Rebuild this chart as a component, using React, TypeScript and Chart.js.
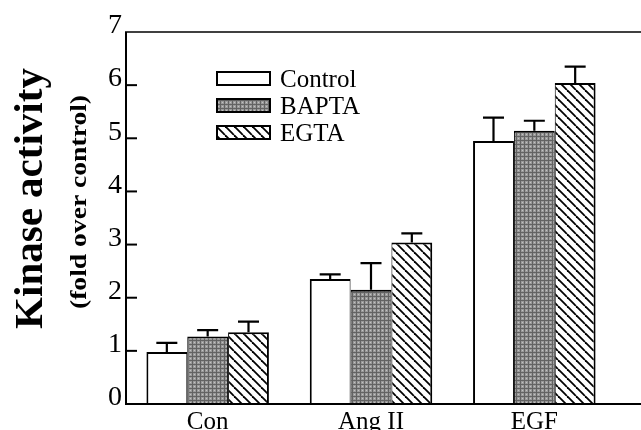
import React, { useEffect, useRef } from "react";
import { Chart, registerables } from "chart.js";

Chart.register(...registerables);

const categories = ["Con", "Ang II", "EGF"];
const seriesNames = ["Control", "BAPTA", "EGTA"];
const controlValues = [0.98, 2.35, 4.95];
const baptaValues = [1.27, 2.15, 5.14];
const egtaValues = [1.35, 3.04, 6.04];
const controlErrors = [0.17, 0.09, 0.44];
const baptaErrors = [0.12, 0.5, 0.19];
const egtaErrors = [0.2, 0.17, 0.31];
const yMin = 0;
const yMax = 7;
const yStep = 1;
const yTitle = "Kinase activity";
const ySubtitle = "(fold over control)";

const FONT = "'Liberation Serif', 'Times New Roman', serif";

function makeStipple(): CanvasPattern | string {
  const c = document.createElement("canvas");
  c.width = 4;
  c.height = 4;
  const g = c.getContext("2d");
  if (!g) return "#999";
  g.fillStyle = "#999999";
  g.fillRect(0, 0, 4, 4);
  g.fillStyle = "#626262";
  g.fillRect(0, 0, 1, 4);
  g.fillRect(0, 0, 4, 1);
  g.fillStyle = "#c2c2c2";
  g.fillRect(2, 2, 1, 1);
  return g.createPattern(c, "repeat") || "#999";
}

function makeHatch(): CanvasPattern | string {
  const s = 9;
  const c = document.createElement("canvas");
  c.width = s;
  c.height = s;
  const g = c.getContext("2d");
  if (!g) return "#fff";
  g.fillStyle = "#fff";
  g.fillRect(0, 0, s, s);
  g.strokeStyle = "#000";
  g.lineWidth = 1.8;
  for (const k of [-1, 0, 1]) {
    g.beginPath();
    g.moveTo(k * s, 0);
    g.lineTo(k * s + s, s);
    g.stroke();
  }
  return g.createPattern(c, "repeat") || "#fff";
}

const decorPlugin = {
  id: "decor",
  afterDatasetsDraw(chart: any) {
    const ctx: CanvasRenderingContext2D = chart.ctx;
    const { left, top, bottom } = chart.chartArea;
    const yScale = chart.scales.y;
    const errs = [controlErrors, baptaErrors, egtaErrors];
    ctx.save();
    ctx.strokeStyle = "#000";
    // error bars (upper only)
    chart.data.datasets.forEach((ds: any, di: number) => {
      const meta = chart.getDatasetMeta(di);
      meta.data.forEach((el: any, i: number) => {
        const v = ds.data[i];
        const e = errs[di][i];
        const y0 = yScale.getPixelForValue(v);
        const y1 = yScale.getPixelForValue(v + e);
        ctx.lineWidth = 2.2;
        ctx.beginPath();
        ctx.moveTo(el.x, y0);
        ctx.lineTo(el.x, y1);
        ctx.moveTo(el.x - 10.5, y1);
        ctx.lineTo(el.x + 10.5, y1);
        ctx.stroke();
      });
    });
    // frame: left axis, top and bottom lines extending to the canvas edge
    const W = chart.width;
    ctx.lineWidth = 2;
    ctx.beginPath();
    ctx.moveTo(left, top);
    ctx.lineTo(left, bottom);
    ctx.moveTo(left - 1, bottom);
    ctx.lineTo(W, bottom);
    ctx.stroke();
    ctx.lineWidth = 1.6;
    ctx.beginPath();
    ctx.moveTo(left - 1, top);
    ctx.lineTo(W, top);
    ctx.stroke();
    // inward tick marks
    ctx.lineWidth = 2;
    yScale.ticks.forEach((t: any) => {
      if (t.value <= yMin || t.value >= yMax) return;
      const py = yScale.getPixelForValue(t.value);
      ctx.beginPath();
      ctx.moveTo(left, py);
      ctx.lineTo(left + 11, py);
      ctx.stroke();
    });
    ctx.restore();
  },
  afterDraw(chart: any) {
    const ctx: CanvasRenderingContext2D = chart.ctx;
    ctx.save();
    // legend
    const boxX = 217;
    const boxW = 53;
    const boxH = 13;
    const base0 = 87;
    const rowGap = 27;
    chart.data.datasets.forEach((ds: any, i: number) => {
      const baseline = base0 + i * rowGap;
      const by = baseline - 15;
      ctx.fillStyle = ds.backgroundColor;
      ctx.fillRect(boxX, by, boxW, boxH);
      ctx.strokeStyle = "#000";
      ctx.lineWidth = 2;
      ctx.strokeRect(boxX, by, boxW, boxH);
      ctx.fillStyle = "#000";
      ctx.font = `25px ${FONT}`;
      ctx.textAlign = "left";
      ctx.textBaseline = "alphabetic";
      ctx.fillText(ds.label, 280, baseline);
    });
    // y axis titles
    ctx.fillStyle = "#000";
    ctx.textAlign = "center";
    ctx.textBaseline = "alphabetic";
    ctx.save();
    ctx.translate(42, 198.5);
    ctx.rotate(-Math.PI / 2);
    ctx.font = `bold 41px ${FONT}`;
    ctx.fillText(yTitle, 0, 0);
    ctx.restore();
    ctx.save();
    ctx.translate(86, 202);
    ctx.rotate(-Math.PI / 2);
    ctx.scale(1.2, 1);
    ctx.font = `bold 23px ${FONT}`;
    ctx.fillText(ySubtitle, 0, 0);
    ctx.restore();
    ctx.restore();
  },
};

export default function App() {
  const ref = useRef<HTMLCanvasElement | null>(null);

  useEffect(() => {
    document.body.style.margin = "0";
    const canvas = ref.current;
    if (!canvas) return;
    const stipple = makeStipple();
    const hatch = makeHatch();
    const chart = new Chart(canvas, {
      type: "bar",
      data: {
        labels: categories,
        datasets: [
          {
            label: seriesNames[0],
            data: controlValues,
            backgroundColor: "#ffffff",
            borderColor: "#000",
            borderWidth: { left: 2, right: 1, top: 2, bottom: 0 } as any,
          },
          {
            label: seriesNames[1],
            data: baptaValues,
            backgroundColor: stipple as any,
            borderColor: "#000",
            borderWidth: { left: 1, right: 1, top: 2, bottom: 0 } as any,
          },
          {
            label: seriesNames[2],
            data: egtaValues,
            backgroundColor: hatch as any,
            borderColor: "#000",
            borderWidth: { left: 1, right: 2, top: 2, bottom: 0 } as any,
          },
        ],
      },
      options: {
        animation: false,
        responsive: false,
        devicePixelRatio: 1,
        layout: { padding: { top: 32, right: 25, left: 0, bottom: 0 } },
        datasets: {
          bar: { categoryPercentage: 0.75, barPercentage: 1.0 },
        },
        plugins: {
          legend: { display: false },
          tooltip: { enabled: false },
          title: { display: false },
        },
        scales: {
          x: {
            grid: { display: false, drawTicks: false },
            border: { display: false },
            ticks: {
              color: "#000",
              padding: 3,
              font: { family: FONT, size: 25 },
              maxRotation: 0,
            },
            afterFit: (scale: any) => {
              scale.height = 26;
            },
          },
          y: {
            min: yMin,
            max: yMax,
            grid: { display: false, drawTicks: false },
            border: { display: false },
            ticks: {
              stepSize: yStep,
              color: "#000",
              padding: 4,
              font: { family: FONT, size: 28, lineHeight: 0.43 },
              callback: (v: any) => [String(v), ""],
            },
            afterFit: (scale: any) => {
              scale.width = 126;
            },
          },
        },
      },
      plugins: [decorPlugin],
    });
    return () => chart.destroy();
  }, []);

  return (
    <div style={{ position: "absolute", left: 0, top: 0, width: 641, height: 430 }}>
      <canvas ref={ref} width={641} height={430} style={{ display: "block" }} />
    </div>
  );
}
